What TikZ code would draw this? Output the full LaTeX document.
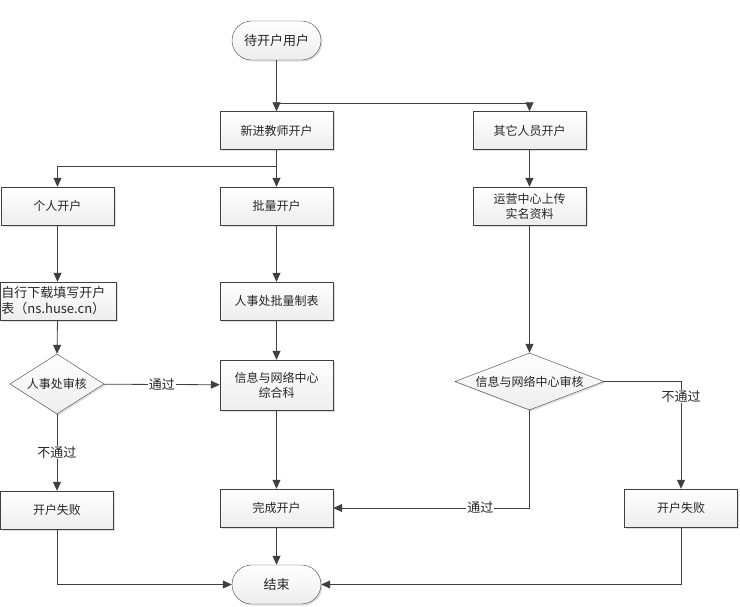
\documentclass[tikz,border=0pt]{standalone}
\usepackage{fontspec}
\setmainfont{Noto Sans CJK SC}
\usetikzlibrary{shapes.geometric,shapes.misc,arrows.meta,shadows}
\definecolor{ln}{HTML}{404040}
\begin{document}
\begin{tikzpicture}[x=1pt,y=-1pt,
  font=\fontsize{12pt}{15pt}\selectfont,
  shd/.style={drop shadow={shadow xshift=1.5pt,shadow yshift=-1.5pt,opacity=0.25,fill=gray}},
  box/.style={shd,draw=ln,rectangle,minimum width=113pt,minimum height=38pt,inner sep=2pt,
    top color=white,bottom color=gray!14,align=center,text=black!85},
  term/.style={shd,draw=ln,rounded rectangle,minimum width=93pt,minimum height=39pt,inner sep=2pt,
    top color=white,bottom color=gray!14,text=black!85,font=\fontsize{13pt}{16pt}\selectfont},
  dia/.style={shd,draw=ln,diamond,inner sep=0pt,top color=white,bottom color=gray!14},
  txt/.style={text=black!85,align=center,inner sep=0pt},
  arr/.style={draw=ln,line width=0.8pt,-{Triangle[length=9pt,width=8pt]}},
  lbl/.style={fill=white,inner sep=1pt,text=black!85,font=\fontsize{13pt}{16pt}\selectfont}]
\useasboundingbox (0,0) rectangle (740,606);
\node[term] (start) at (276.5,40.5) {待开户用户};
\node[box] (xin) at (276.5,130.5) {新进教师开户};
\node[box] (qita) at (529.5,130.5) {其它人员开户};
\node[box] (geren) at (57.5,206) {个人开户};
\node[box] (piliang) at (276.5,206) {批量开户};
\node[box] (yunying) at (529.5,206) {运营中心上传\\实名资料};
\node[box,minimum width=116pt,text width=113pt,align=left,inner sep=1.5pt,
  font=\fontsize{13pt}{16pt}\selectfont] (zixing) at (58,301) {自行下载填写开户\\表（ns.huse.cn）};
\node[box] (zhibiao) at (276.5,301) {人事处批量制表};
\node[dia,minimum width=94pt,minimum height=60pt] (d1) at (57,384) {};
\node[txt] (d1t) at (d1.center) {人事处审核};
\node[box,minimum height=50pt] (zonghe) at (276.5,385) {信息与网络中心\\综合科};
\node[dia,minimum width=149pt,minimum height=57pt] (d2) at (529.5,381.5) {};
\node[txt] (d2t) at (d2.center) {信息与网络中心审核};
\node[box] (fail1) at (57,510) {开户失败};
\node[box] (done) at (276.5,508) {完成开户};
\node[box] (fail2) at (681,508) {开户失败};
\node[term] (end) at (276.5,584.5) {结束};

\draw[arr] (start) -- (xin);
\draw[arr] (start.south) -- ++(0,43) -| (qita.north);
\draw[arr] (xin) -- (piliang);
\draw[arr] (xin.south) -- ++(0,17) -| (geren.north);
\draw[arr] (qita) -- (yunying);
\draw[arr] (geren.south) -- (geren.south |- zixing.north);
\draw[arr] (geren.south |- zixing.south) -- (d1.north);
\draw[arr] (d1) -- node[lbl]{通过} (zonghe);
\draw[arr] (d1) -- node[lbl]{不通过} (fail1);
\draw[arr] (piliang) -- (zhibiao);
\draw[arr] (zhibiao) -- (zonghe);
\draw[arr] (zonghe) -- (done);
\draw[arr] (done) -- (end);
\draw[arr] (yunying) -- (d2);
\draw[arr] (d2.east) -| node[lbl,pos=0.57]{不通过} (fail2.north);
\draw[arr] (d2.south) |- node[lbl,pos=0.625]{通过} (done.east);
\draw[arr] (fail1.south) |- (end.west);
\draw[arr] (fail2.south) |- (end.east);
\end{tikzpicture}
\end{document}
